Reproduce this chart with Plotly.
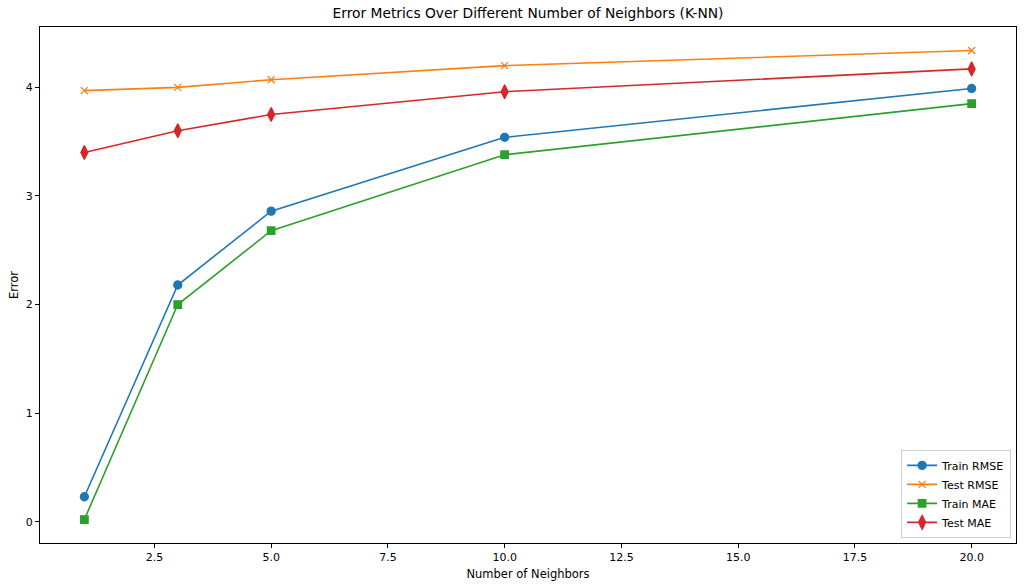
import plotly.graph_objects as go

neighbors = [1, 3, 5, 10, 20]
train_rmse = [0.23, 2.18, 2.86, 3.54, 3.99]
test_rmse = [3.97, 4.00, 4.07, 4.20, 4.34]
train_mae = [0.02, 2.00, 2.68, 3.38, 3.85]
test_mae = [3.40, 3.60, 3.75, 3.96, 4.17]

x_ticks = [2.5, 5.0, 7.5, 10.0, 12.5, 15.0, 17.5, 20.0]
y_ticks = [0, 1, 2, 3, 4]

series = [
    ("Train RMSE", train_rmse, "#1f77b4", "circle", 8),
    ("Test RMSE", test_rmse, "#ff7f0e", "x-thin-open", 7),
    ("Train MAE", train_mae, "#2ca02c", "square", 7.5),
    ("Test MAE", test_mae, "#d62728", "diamond-tall", 10),
]

fig = go.Figure()
for name, vals, col, sym, size in series:
    fig.add_trace(go.Scatter(
        x=neighbors, y=vals, mode="lines+markers", name=name,
        line=dict(color=col, width=1.6),
        marker=dict(symbol=sym, size=size, color=col, line=dict(color=col, width=1.3)),
    ))

axis_style = dict(
    showline=True, linecolor="black", linewidth=1, mirror=True,
    ticks="outside", ticklen=4, tickcolor="black", showgrid=False, zeroline=False,
    tickfont=dict(size=11, color="black"), automargin=False,
)

fig.update_layout(
    width=1024, height=588,
    margin=dict(l=40, r=8, t=27, b=45),
    paper_bgcolor="white", plot_bgcolor="white",
    font=dict(family="DejaVu Sans", color="black"),
    title=dict(text="Error Metrics Over Different Number of Neighbors (K-NN)",
               x=0.5, xanchor="center", xref="paper",
               y=1 - 13 / 588, yanchor="middle", font=dict(size=13.8)),
    xaxis=dict(axis_style, range=[0.05, 20.95], tickvals=x_ticks,
               ticktext=["%.1f" % t for t in x_ticks],
               title=dict(text="Number of Neighbors", font=dict(size=11.5), standoff=6)),
    yaxis=dict(axis_style, range=[-0.196, 4.556], tickvals=y_ticks,
               title=dict(text="Error", font=dict(size=11.5), standoff=4)),
    legend=dict(x=0.995, y=0.01, xanchor="right", yanchor="bottom",
                bordercolor="#d0d0d0", borderwidth=1, bgcolor="rgba(255,255,255,0.8)",
                font=dict(size=11), tracegroupgap=0),
)

# drop the page's default body margin so the figure sits at the top-left corner
fig.write_html("out.html", config={"displayModeBar": False},
               post_script="document.body.style.margin='0';")
